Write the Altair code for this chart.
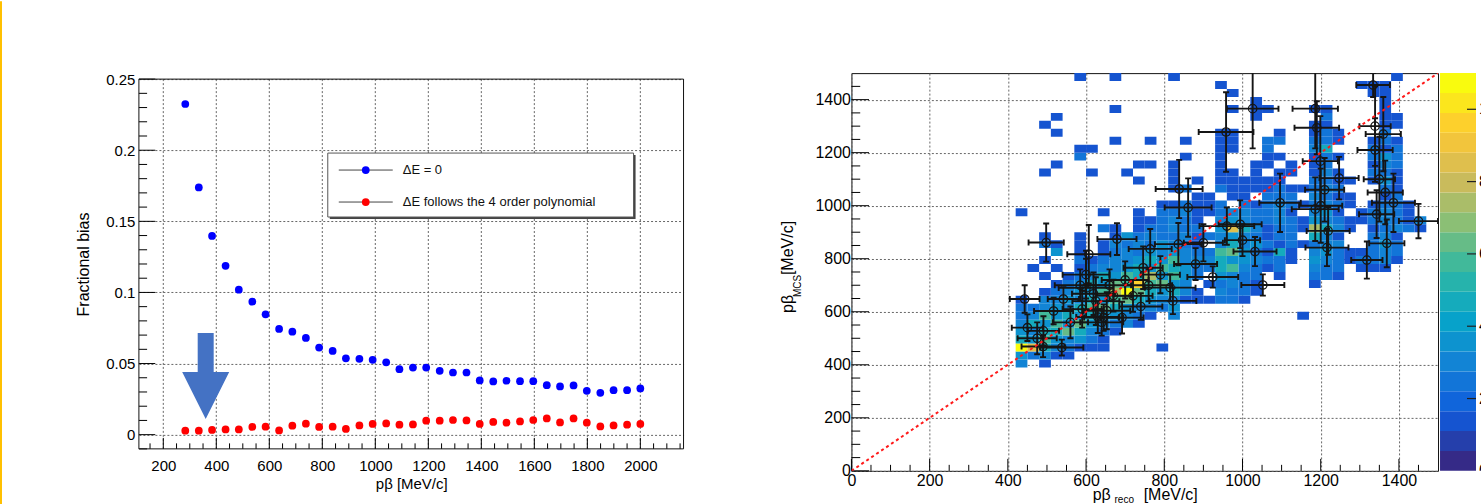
import altair as alt
import pandas as pd

FONT = "Liberation Sans"

# ---------------- left panel: fractional bias ----------------
pb_x = [283, 334, 384, 435, 485, 536, 586, 637, 687, 738, 788, 839, 889, 940, 990,
        1041, 1091, 1142, 1192, 1243, 1293, 1344, 1394, 1445, 1495, 1546, 1596,
        1647, 1697, 1748, 1798, 1849, 1899, 1950, 2000]
bias_de0 = [0.2325, 0.1738, 0.1397, 0.1187, 0.1019, 0.0935, 0.0846, 0.0743, 0.0724,
            0.0680, 0.0612, 0.0589, 0.0537, 0.0533, 0.0526, 0.0509, 0.0460, 0.0472,
            0.0472, 0.0449, 0.0437, 0.0437, 0.0381, 0.0374, 0.0379, 0.0376, 0.0376,
            0.0348, 0.0339, 0.0346, 0.0308, 0.0294, 0.0313, 0.0313, 0.0325]
bias_poly = [0.0028, 0.0028, 0.0033, 0.0037, 0.0037, 0.0054, 0.0056, 0.0030, 0.0063,
             0.0077, 0.0054, 0.0056, 0.0040, 0.0065, 0.0075, 0.0079, 0.0070, 0.0072,
             0.0098, 0.0098, 0.0103, 0.0100, 0.0075, 0.0089, 0.0084, 0.0093, 0.0103,
             0.0114, 0.0086, 0.0114, 0.0084, 0.0058, 0.0065, 0.0070, 0.0075]
series_names = ["ΔE = 0", "ΔE follows the 4 order polynomial"]
series_colors = ["#0000ff", "#ff0000"]
arrow_x = [360]
arrow_y = [0.0413]

left_x_domain = [108, 2163]
left_y_domain = [-0.01, 0.25]
left_x_major = list(range(200, 2001, 200))
left_x_minor = [v for v in range(150, 2151, 50) if v % 200]
left_y_major = [0, 0.05, 0.1, 0.15, 0.2, 0.25]
left_y_minor = [round(-0.01 + 0.01 * i, 2) for i in range(27) if (i - 1) % 5 != 0]

# ---------------- right panel: 2D histogram ----------------
# y-bin start -> list of (x-bin start, colour level); bins are 30 MeV/c wide
cells_by_row = {
    390: [(420, 3), (480, 1)],
    420: [(420, 4), (450, 2), (480, 3), (510, 1), (540, 1)],
    450: [(420, 11), (450, 9), (480, 5), (510, 3), (540, 2), (570, 1), (600, 1), (630, 1), (780, 1)],
    480: [(420, 5), (450, 4), (480, 6), (510, 4), (540, 3), (570, 4), (600, 2), (630, 1)],
    510: [(420, 4), (450, 3), (480, 5), (510, 5), (540, 7), (570, 5), (600, 3), (630, 2), (660, 1)],
    540: [(420, 3), (450, 5), (480, 4), (510, 6), (540, 4), (570, 7), (600, 4), (630, 3), (660, 2), (690, 3), (720, 1)],
    570: [(420, 2), (450, 3), (480, 6), (510, 4), (540, 5), (570, 4), (600, 5), (630, 4), (660, 4), (690, 3), (720, 2), (750, 1), (810, 3), (1140, 1)],
    600: [(420, 2), (450, 2), (480, 3), (510, 4), (540, 3), (570, 5), (600, 6), (630, 7), (660, 5), (690, 4), (720, 3), (750, 3), (780, 2), (810, 4)],
    630: [(420, 1), (480, 3), (510, 3), (540, 4), (570, 3), (600, 5), (630, 4), (660, 6), (690, 7), (720, 5), (750, 4), (780, 3), (810, 3), (840, 1), (870, 1), (900, 1), (930, 2), (960, 2), (990, 1)],
    660: [(480, 1), (510, 2), (540, 3), (570, 4), (600, 4), (630, 6), (660, 8), (690, 11), (720, 7), (750, 5), (780, 4), (810, 5), (840, 3), (870, 1), (930, 3), (960, 2), (990, 2), (1020, 1)],
    690: [(510, 1), (540, 2), (570, 3), (600, 5), (630, 4), (660, 7), (690, 6), (720, 10), (750, 6), (780, 7), (810, 4), (840, 3), (900, 1), (930, 2), (960, 3), (990, 2), (1020, 1), (1170, 1)],
    720: [(480, 1), (540, 1), (570, 2), (600, 3), (630, 5), (660, 4), (690, 6), (720, 5), (750, 8), (780, 4), (810, 6), (840, 4), (870, 2), (930, 4), (960, 3), (990, 2), (1020, 2), (1080, 1), (1170, 2), (1200, 2), (1230, 1)],
    750: [(450, 1), (510, 1), (570, 1), (600, 2), (630, 3), (660, 3), (690, 4), (720, 5), (750, 4), (780, 6), (810, 5), (840, 4), (870, 2), (900, 2), (930, 5), (960, 6), (990, 3), (1020, 2), (1050, 1), (1080, 2), (1170, 3), (1200, 2), (1230, 2), (1290, 1), (1320, 1), (1350, 1)],
    780: [(480, 1), (570, 2), (600, 1), (630, 2), (660, 3), (690, 3), (720, 4), (750, 5), (780, 4), (810, 6), (840, 3), (870, 3), (900, 3), (930, 5), (960, 4), (990, 4), (1020, 3), (1050, 2), (1080, 2), (1110, 1), (1170, 4), (1200, 3), (1230, 2), (1260, 1), (1290, 2), (1320, 2), (1350, 3), (1380, 1)],
    810: [(510, 4), (570, 1), (630, 1), (660, 2), (690, 3), (720, 2), (750, 4), (780, 3), (810, 4), (840, 3), (870, 2), (900, 2), (930, 6), (960, 7), (990, 4), (1020, 2), (1050, 1), (1080, 5), (1110, 1), (1170, 3), (1200, 4), (1230, 2), (1260, 1), (1290, 1), (1320, 2), (1350, 3), (1380, 2)],
    840: [(480, 2), (510, 1), (570, 1), (630, 1), (660, 3), (690, 2), (720, 3), (750, 2), (780, 4), (810, 3), (840, 2), (870, 1), (930, 3), (960, 5), (990, 3), (1020, 4), (1050, 2), (1080, 1), (1110, 2), (1140, 1), (1170, 2), (1200, 3), (1230, 3), (1320, 2), (1350, 4), (1380, 2)],
    870: [(480, 1), (570, 1), (660, 1), (690, 4), (720, 2), (750, 3), (780, 2), (810, 2), (840, 3), (870, 1), (900, 2), (930, 3), (960, 4), (990, 3), (1020, 2), (1050, 1), (1080, 2), (1110, 2), (1170, 5), (1200, 3), (1230, 1), (1320, 2), (1350, 3), (1380, 1)],
    900: [(630, 2), (660, 1), (720, 1), (750, 2), (780, 2), (810, 3), (840, 2), (870, 2), (930, 4), (960, 9), (990, 5), (1020, 3), (1050, 1), (1080, 2), (1110, 2), (1140, 1), (1170, 8), (1200, 5), (1230, 3), (1260, 1), (1320, 1), (1350, 2), (1380, 3), (1410, 2), (1440, 1)],
    930: [(720, 1), (750, 1), (780, 2), (810, 3), (840, 2), (870, 1), (930, 3), (960, 4), (990, 3), (1020, 2), (1050, 2), (1080, 3), (1110, 2), (1140, 1), (1170, 4), (1200, 3), (1230, 2), (1260, 1), (1290, 1), (1320, 2), (1350, 3), (1380, 2), (1410, 1), (1440, 3)],
    960: [(420, 1), (630, 1), (720, 1), (780, 2), (810, 2), (840, 3), (870, 1), (900, 1), (930, 2), (960, 3), (990, 3), (1020, 2), (1050, 2), (1080, 3), (1110, 1), (1170, 3), (1200, 4), (1230, 1), (1290, 1), (1320, 2), (1350, 3), (1380, 2), (1410, 1)],
    990: [(780, 1), (810, 1), (840, 2), (870, 1), (900, 1), (930, 2), (990, 2), (1020, 1), (1050, 2), (1080, 3), (1110, 2), (1140, 1), (1170, 2), (1200, 3), (1230, 2), (1260, 1), (1320, 1), (1350, 2), (1380, 2), (1410, 1)],
    1020: [(870, 1), (900, 1), (960, 1), (990, 1), (1050, 2), (1080, 2), (1110, 2), (1170, 3), (1200, 2), (1230, 1), (1260, 1), (1350, 1), (1380, 2)],
    1050: [(810, 1), (840, 2), (930, 2), (960, 1), (990, 1), (1020, 1), (1050, 1), (1080, 2), (1110, 1), (1140, 1), (1170, 2), (1200, 3), (1230, 2), (1350, 2), (1380, 1)],
    1080: [(720, 1), (810, 1), (870, 1), (930, 1), (960, 1), (990, 1), (1020, 1), (1050, 1), (1080, 1), (1170, 2), (1200, 2), (1230, 1), (1260, 1), (1320, 1), (1350, 4), (1380, 1)],
    1110: [(480, 1), (600, 1), (690, 1), (810, 1), (930, 1), (960, 1), (1020, 1), (1080, 1), (1110, 1), (1170, 1), (1200, 3), (1230, 1), (1320, 2), (1350, 2), (1380, 1)],
    1140: [(510, 1), (720, 1), (750, 1), (810, 1), (930, 1), (1020, 1), (1050, 1), (1110, 1), (1170, 1), (1200, 2), (1320, 1), (1350, 3), (1380, 2)],
    1170: [(570, 2), (840, 1), (930, 1), (1050, 1), (1080, 1), (1170, 1), (1200, 2), (1230, 1), (1320, 2), (1350, 4), (1380, 2)],
    1200: [(570, 1), (600, 1), (930, 1), (960, 1), (1050, 2), (1170, 3), (1200, 5), (1320, 2), (1350, 1), (1380, 2)],
    1230: [(660, 1), (750, 1), (840, 1), (930, 1), (960, 1), (1050, 2), (1080, 2), (1170, 2), (1200, 2), (1230, 1), (1320, 1), (1350, 2), (1380, 1)],
    1260: [(510, 1), (930, 1), (960, 1), (1080, 1), (1170, 1), (1200, 2), (1230, 1), (1350, 2)],
    1290: [(480, 1), (1170, 1), (1200, 1), (1350, 1), (1380, 1)],
    1320: [(510, 1), (1020, 1), (1200, 2), (1350, 1), (1380, 1)],
    1350: [(660, 1), (960, 1), (1020, 1), (1050, 1), (1170, 1), (1200, 1), (1350, 1)],
    1380: [(1020, 1), (1350, 1)],
    1410: [(960, 1), (1320, 1), (1350, 1)],
    1440: [(930, 1), (1290, 1), (1320, 1), (1350, 1)],
    1470: [(570, 1), (660, 1), (810, 1), (1380, 1)],
}
# colour level -> bin content read against the colour bar
level_value = [0, 1.5, 2.2, 3.0, 3.8, 4.6, 5.5, 6.3, 7.5, 8.5, 9.5, 10.6]
bin_w = 30

# profile points with errors (pβ_reco, pβ_MCS, x error, y error)
eb_x = [498, 443, 490, 538, 491, 517, 542, 607, 600, 619, 585, 653, 640, 670, 679, 645,
        692, 746, 764, 836, 815, 822, 838, 861, 924, 960, 994, 1032, 1052, 958, 1026,
        1096, 1186, 1190, 1199, 1247, 1186, 1219, 1216, 1334, 1339, 1360, 1339, 1343,
        1386, 1369, 1450, 1318,
        560, 590, 625, 660, 700, 720, 740, 760, 790, 600, 630, 450, 475, 880, 900, 1000,
        1200, 1210, 1350, 1365]
eb_y = [861, 648, 469, 465, 528, 603, 648, 817, 740, 668, 700, 604, 560, 661, 874, 578,
        578, 766, 837, 855, 691, 641, 1063, 993, 731, 923, 930, 827, 701, 1278, 1366,
        1011, 1366, 1294, 1168, 1104, 987, 905, 842, 1455, 1300, 1270, 1210, 968,
        1011, 858, 942, 795,
        560, 610, 640, 700, 720, 660, 620, 700, 740, 690, 580, 540, 500, 780, 860, 870,
        1000, 1060, 1100, 1050]
eb_xerr = [45, 38, 55, 55, 40, 50, 40, 55, 60, 55, 65, 60, 55, 45, 50, 50, 55, 50, 55,
           60, 65, 60, 60, 60, 65, 70, 55, 55, 55, 70, 66, 53, 58, 57, 45, 50, 60, 55,
           55, 43, 40, 45, 45, 45, 55, 45, 50, 40,
           45, 50, 60, 55, 60, 50, 55, 60, 50, 70, 55, 40, 50, 55, 50, 45,
           55, 50, 40, 45]
eb_yerr = [72, 52, 40, 30, 55, 50, 45, 110, 90, 80, 60, 70, 50, 60, 60, 50, 60, 80, 75,
           80, 50, 50, 110, 110, 40, 70, 90, 55, 40, 150, 150, 110, 150, 100, 170, 80,
           120, 90, 70, 45, 150, 140, 120, 90, 110, 90, 65, 70,
           60, 70, 90, 60, 70, 60, 50, 60, 70, 110, 60, 50, 60, 60, 70, 60,
           140, 120, 160, 120]

diag_x = [0, 1500]
diag_y = [0, 1500]
right_domain = [0, 1500]
right_major = list(range(0, 1401, 200))
right_minor = [v for v in range(50, 1500, 50) if v % 200]

cbar_max = 11
cbar_bands = 20
cbar_labels = [0, 2, 4, 6, 8, 10]

# ---------------- colour palette (ROOT kBird) ----------------
BIRD_POS = [0.0, 0.125, 0.25, 0.375, 0.5, 0.625, 0.75, 0.875, 1.0]
BIRD_R = [0.2082, 0.0592, 0.0780, 0.0232, 0.1802, 0.5301, 0.8186, 0.9956, 0.9764]
BIRD_G = [0.1664, 0.3599, 0.5041, 0.6419, 0.7178, 0.7492, 0.7328, 0.7862, 0.9832]
BIRD_B = [0.5293, 0.8684, 0.8385, 0.7914, 0.6425, 0.4662, 0.3499, 0.1968, 0.0539]


def bird(t):
    for i in range(8):
        if t <= BIRD_POS[i + 1] + 1e-9:
            f = (t - BIRD_POS[i]) / (BIRD_POS[i + 1] - BIRD_POS[i])
            r = BIRD_R[i] + f * (BIRD_R[i + 1] - BIRD_R[i])
            g = BIRD_G[i] + f * (BIRD_G[i + 1] - BIRD_G[i])
            b = BIRD_B[i] + f * (BIRD_B[i + 1] - BIRD_B[i])
            return "#%02x%02x%02x" % (round(r * 255), round(g * 255), round(b * 255))
    return "#f9fb0e"


band_w = cbar_max / cbar_bands
band_colors = [bird(i / (cbar_bands - 1)) for i in range(cbar_bands)]
thresholds = [round(band_w * (i + 1), 4) for i in range(cbar_bands - 1)]
color_scale = alt.Scale(type="threshold", domain=thresholds, range=band_colors)

# ================= LEFT CHART =================
# the left group shares its top with the right one; its frame starts TOP_OFF px lower
LW, LH, TOP_OFF = 545, 370, 6
LHT = LH + TOP_OFF
XT_L = "pβ [MeV/c]"
YT_L = "Fractional bias"
xs_l = alt.Scale(domain=left_x_domain, nice=False, zero=False)
ys_l = alt.Scale(domain=left_y_domain, nice=False, zero=False, range=[LHT, TOP_OFF])
base_axis = dict(domain=False, ticks=False, labelFont=FONT, labelColor="black",
                 labelOverlap=False, labelFlush=False)
grid_kw = dict(grid=True, gridDash=[2, 2], gridColor="#666", gridWidth=1, **base_axis)
title_kw = dict(titleFont=FONT, titleColor="black", titleFontWeight="normal")

pts_df = pd.DataFrame({
    "p": pb_x + pb_x,
    "bias": bias_de0 + bias_poly,
    "series": [series_names[0]] * len(pb_x) + [series_names[1]] * len(pb_x),
})

pts = alt.Chart(pts_df).mark_circle(size=60, opacity=1).encode(
    x=alt.X("p:Q", scale=xs_l, title=XT_L,
            axis=alt.Axis(values=left_x_major, format="d", labelFontSize=15,
                          labelPadding=10, titleFontSize=15, titlePadding=3,
                          grid=False, **base_axis, **title_kw)),
    y=alt.Y("bias:Q", scale=ys_l, title=YT_L,
            axis=alt.Axis(values=left_y_major, format="~g", labelFontSize=15,
                          labelPadding=4, titleFontSize=16, titlePadding=14,
                          titleY=TOP_OFF + LH / 2,
                          **grid_kw, **title_kw)),
    color=alt.Color("series:N", scale=alt.Scale(domain=series_names, range=series_colors),
                    legend=None),
)

# vertical dotted grid lines, limited to the frame
vgrid_l = alt.Chart(pd.DataFrame({"p": left_x_major})).mark_rule(
    color="#666", strokeWidth=1, strokeDash=[2, 2]).encode(
    x=alt.X("p:Q", title=XT_L), y=alt.value(TOP_OFF), y2=alt.value(LHT))

frame_l = alt.Chart(pd.DataFrame({"k": [0]})).mark_rect(
    fillOpacity=0, stroke="#111", strokeWidth=1).encode(
    x=alt.value(0), x2=alt.value(LW), y=alt.value(TOP_OFF), y2=alt.value(LHT))


def xticks_l(vals, length):
    return alt.Chart(pd.DataFrame({"p": vals})).mark_rule(color="black", strokeWidth=1).encode(
        x=alt.X("p:Q", title=XT_L), y=alt.value(LHT), y2=alt.value(LHT - length))


def yticks_l(vals, length):
    return alt.Chart(pd.DataFrame({"bias": vals})).mark_rule(color="black", strokeWidth=1).encode(
        y=alt.Y("bias:Q", title=YT_L), x=alt.value(0), x2=alt.value(length))


# manual ROOT-style legend box
LY = TOP_OFF
leg_layers = [
    alt.Chart(pd.DataFrame({"k": [0]})).mark_rect(fill="#444").encode(
        x=alt.value(191), x2=alt.value(497), y=alt.value(LY + 76), y2=alt.value(LY + 140)),
    alt.Chart(pd.DataFrame({"k": [0]})).mark_rect(fill="white", stroke="#555", strokeWidth=1).encode(
        x=alt.value(189), x2=alt.value(495), y=alt.value(LY + 74), y2=alt.value(LY + 138)),
]
for i, (name, col) in enumerate(zip(series_names, series_colors)):
    yy = LY + 91 + 32 * i
    leg_layers.append(alt.Chart(pd.DataFrame({"k": [0]})).mark_rule(color="#444", strokeWidth=1).encode(
        x=alt.value(200), x2=alt.value(254), y=alt.value(yy)))
    leg_layers.append(alt.Chart(pd.DataFrame({"k": [0]})).mark_circle(size=60, color=col, opacity=1).encode(
        x=alt.value(227), y=alt.value(yy)))
    leg_layers.append(alt.Chart(pd.DataFrame({"label": [name]})).mark_text(
        align="left", baseline="middle", font=FONT, fontSize=13, color="#111").encode(
        text="label:N", x=alt.value(264), y=alt.value(yy)))

arrow = alt.Chart(pd.DataFrame({"p": arrow_x, "bias": arrow_y})).mark_point(
    shape="M-0.186,-1 L0.186,-1 L0.186,-0.093 L0.547,-0.093 L0,1 L-0.547,-0.093 L-0.186,-0.093 Z",
    size=7396, filled=True, color="#4472c4", opacity=1, strokeWidth=0).encode(
    x=alt.X("p:Q", title=XT_L), y=alt.Y("bias:Q", title=YT_L))

slide_edge = alt.Chart(pd.DataFrame({"k": [0]})).mark_rule(color="#ffc000", strokeWidth=2).encode(
    x=alt.value(-138), y=alt.value(-72), y2=alt.value(432))

left = alt.layer(
    vgrid_l, pts,
    xticks_l(left_x_major, 11), xticks_l(left_x_minor, 5.5),
    yticks_l(left_y_major, 16.4), yticks_l(left_y_minor, 8.2),
    frame_l, *leg_layers, arrow, slide_edge,
).properties(width=LW, height=LHT,
             view=alt.ViewBackground(stroke="transparent", strokeWidth=0, fill="white"))

# ================= RIGHT CHART =================
RW, RH = 587, 398
xs_r = alt.Scale(domain=right_domain, nice=False, zero=False)
ys_r = alt.Scale(domain=right_domain, nice=False, zero=False)

cx, cy, cv = [], [], []
for yb, row in cells_by_row.items():
    for xb, lev in row:
        cx.append(xb)
        cy.append(yb)
        cv.append(level_value[lev])
cell_df = pd.DataFrame({"xr": cx, "xr2": [v + bin_w for v in cx],
                        "yr": cy, "yr2": [v + bin_w for v in cy], "n": cv})

cells = alt.Chart(cell_df).mark_rect(clip=True, strokeWidth=0).encode(
    x=alt.X("xr:Q", scale=xs_r, title="",
            axis=alt.Axis(values=right_major, format="d", labelFontSize=16, labelPadding=2,
                          title=None, **grid_kw)),
    x2="xr2:Q",
    y=alt.Y("yr:Q", scale=ys_r, title="",
            axis=alt.Axis(values=right_major, format="d", labelFontSize=16, labelPadding=1,
                          title=None, **grid_kw)),
    y2="yr2:Q",
    color=alt.Color("n:Q", scale=color_scale, legend=None),
)


def xticks_r(vals, length):
    return alt.Chart(pd.DataFrame({"xr": vals})).mark_rule(color="black", strokeWidth=1).encode(
        x=alt.X("xr:Q", title=""), y=alt.value(RH), y2=alt.value(RH - length))


def yticks_r(vals, length):
    return alt.Chart(pd.DataFrame({"yr": vals})).mark_rule(color="black", strokeWidth=1).encode(
        y=alt.Y("yr:Q", title=""), x=alt.value(0), x2=alt.value(length))


eb_df = pd.DataFrame({
    "xr": eb_x, "yr": eb_y,
    "xlo": [a - b for a, b in zip(eb_x, eb_xerr)], "xhi": [a + b for a, b in zip(eb_x, eb_xerr)],
    "ylo": [a - b for a, b in zip(eb_y, eb_yerr)], "yhi": [a + b for a, b in zip(eb_y, eb_yerr)],
})
EBC = "#151515"
EBW = 1.9
xbars = alt.Chart(eb_df).mark_rule(color=EBC, strokeWidth=EBW, clip=True).encode(
    x=alt.X("xlo:Q", title=""), x2="xhi:Q", y=alt.Y("yr:Q", title=""))
ybars = alt.Chart(eb_df).mark_rule(color=EBC, strokeWidth=EBW, clip=True).encode(
    x=alt.X("xr:Q", title=""), y=alt.Y("ylo:Q", title=""), y2="yhi:Q")
cap_v = "M0,-1 L0,1"
cap_h = "M-1,0 L1,0"
caps = [
    alt.Chart(eb_df).mark_point(shape=cap_v, size=36, stroke=EBC, strokeWidth=EBW, clip=True, opacity=1).encode(
        x=alt.X(f"{f}:Q", title=""), y=alt.Y("yr:Q", title="")) for f in ("xlo", "xhi")
] + [
    alt.Chart(eb_df).mark_point(shape=cap_h, size=36, stroke=EBC, strokeWidth=EBW, clip=True, opacity=1).encode(
        x=alt.X("xr:Q", title=""), y=alt.Y(f"{f}:Q", title="")) for f in ("ylo", "yhi")
]
centers = alt.Chart(eb_df).mark_point(shape="circle", size=70, filled=False, stroke=EBC,
                                      strokeWidth=1.3, clip=True, opacity=1).encode(
    x=alt.X("xr:Q", title=""), y=alt.Y("yr:Q", title=""))

diag = alt.Chart(pd.DataFrame({"xr": diag_x, "yr": diag_y})).mark_line(
    color="#ff1a1a", strokeWidth=2, strokeDash=[3, 3], clip=True).encode(
    x=alt.X("xr:Q", title=""), y=alt.Y("yr:Q", title=""))

# axis titles with subscripts, built from text pieces
ytitle_parts = [("pβ", -58, 231, 16), ("MCS", -50, 213, 10), ("[MeV/c]", -58, 175, 16)]
xtitle_parts = [("pβ", 250.5, 427, 16), ("reco", 273, 430, 10), ("[MeV/c]", 319.5, 427, 16)]
title_layers = []
for txt, px, py, fs in ytitle_parts:
    title_layers.append(alt.Chart(pd.DataFrame({"t": [txt]})).mark_text(
        angle=270, align="center", baseline="alphabetic", font=FONT, fontSize=fs, color="black").encode(
        text="t:N", x=alt.value(px), y=alt.value(py)))
for txt, px, py, fs in xtitle_parts:
    title_layers.append(alt.Chart(pd.DataFrame({"t": [txt]})).mark_text(
        align="center", baseline="alphabetic", font=FONT, fontSize=fs, color="black").encode(
        text="t:N", x=alt.value(px), y=alt.value(py)))

anchor_r = alt.Chart(pd.DataFrame({"k": [0]})).mark_rule(strokeOpacity=0, strokeWidth=1).encode(
    x=alt.value(-80), y=alt.value(-72), y2=alt.value(0))

right = alt.layer(
    cells,
    xticks_r(right_major, 12), xticks_r(right_minor, 6),
    yticks_r(right_major, 17.6), yticks_r(right_minor, 8.8),
    xbars, ybars, *caps, centers, diag, *title_layers, anchor_r,
).properties(width=RW, height=RH,
             view=alt.ViewBackground(stroke="#111", strokeWidth=1, fill="white"))

# ================= COLOUR BAR =================
CBW = 41
cb_df = pd.DataFrame({
    "lo": [band_w * i for i in range(cbar_bands)],
    "hi": [band_w * (i + 1) for i in range(cbar_bands)],
    "mid": [band_w * (i + 0.5) for i in range(cbar_bands)],
})
cb_scale = alt.Scale(domain=[0, cbar_max], nice=False, zero=False)
cb_rects = alt.Chart(cb_df).mark_rect(strokeWidth=0).encode(
    x=alt.value(0), x2=alt.value(36),
    y=alt.Y("lo:Q", scale=cb_scale, axis=None), y2="hi:Q",
    color=alt.Color("mid:Q", scale=color_scale, legend=None))
cb_ticks = alt.Chart(pd.DataFrame({"lo": cbar_labels[1:]})).mark_rule(color="#222", strokeWidth=1.2).encode(
    y=alt.Y("lo:Q", scale=cb_scale, axis=None), x=alt.value(27), x2=alt.value(36))
cb_text = alt.Chart(pd.DataFrame({"lo": cbar_labels, "t": [str(v) for v in cbar_labels]})).mark_text(
    align="left", baseline="middle", font=FONT, fontSize=16, color="black", clip=True).encode(
    y=alt.Y("lo:Q", scale=cb_scale, axis=None), x=alt.value(39), text="t:N")
anchor_c = alt.Chart(pd.DataFrame({"k": [0]})).mark_rule(strokeOpacity=0, strokeWidth=1).encode(
    x=alt.value(1), y=alt.value(-72), y2=alt.value(0))
cbar = alt.layer(cb_rects, cb_ticks, cb_text, anchor_c).properties(
    width=CBW, height=RH, view=alt.ViewBackground(stroke="transparent", strokeWidth=0))

chart = alt.hconcat(
    left,
    alt.hconcat(right, cbar, spacing=1),
    spacing=86,
).properties(
    padding={"left": 0, "top": 0, "right": 0, "bottom": 0},
    background="white",
).resolve_scale(color="independent")

chart.save("out.html", embed_options={"renderer": "svg", "actions": False})
